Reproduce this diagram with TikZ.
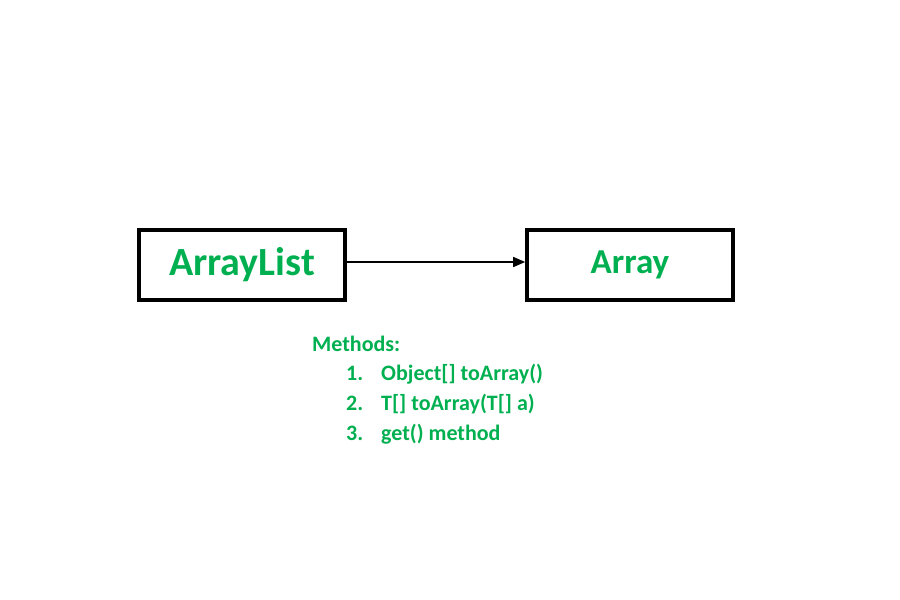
\documentclass[tikz,border=0pt]{standalone}
\usepackage{fontspec}
\setmainfont{Carlito}
\usetikzlibrary{arrows.meta, positioning}
\definecolor{methgreen}{RGB}{0,176,80}
\tikzset{
    classbox/.style={draw, line width=3.6pt, minimum width=206pt, minimum height=70pt, inner sep=0pt,
        text=methgreen, font=\bfseries},
    methtext/.style={anchor=base west, inner sep=0pt, text=methgreen, font=\fontsize{22}{26}\selectfont\bfseries}
}
\begin{document}
\begin{tikzpicture}[x=1pt, y=-1pt]
    \useasboundingbox (0,0) rectangle (900,600);
    % the two classes
    \node[classbox, font=\fontsize{40}{46}\selectfont\bfseries] (arrlist) at (242,265) {ArrayList};
    \node[classbox, font=\fontsize{35}{42}\selectfont\bfseries] (arr) at (630,265) {\raisebox{3pt}{Array}};
    \draw[line width=1.3pt, -{Triangle[length=12pt, width=10pt]}] ([yshift=3pt]arrlist.east) -- ([yshift=3pt]arr.west);
    % methods list
    \node[methtext] (meth) at (312,351) {Methods:};
    \node[methtext] (n1) at (346,380) {1.};
    \node[methtext] (n2) at (346,410) {2.};
    \node[methtext] (n3) at (346,440) {3.};
    \node[methtext] (m1) at (381,380) {Object[] toArray()};
    \node[methtext] (m2) at (381,410) {T[] toArray(T[] a)};
    \node[methtext] (m3) at (381,440) {get() method};
\end{tikzpicture}
\end{document}
